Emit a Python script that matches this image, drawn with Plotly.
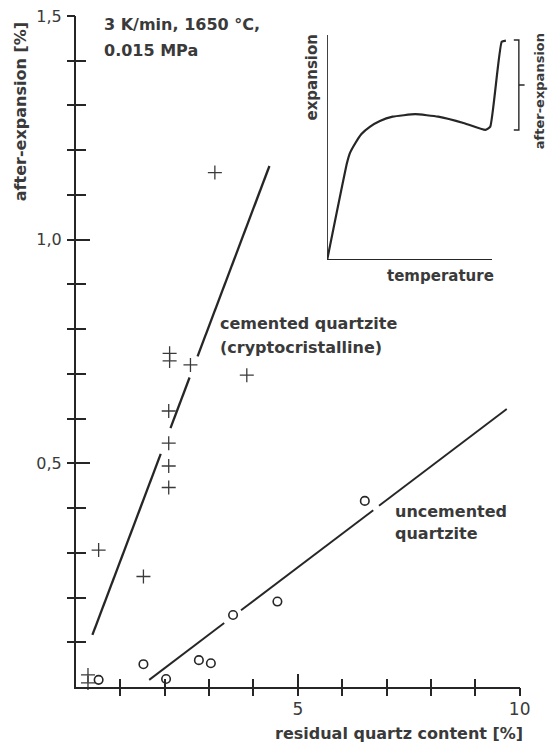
import plotly.graph_objects as go

# ---- measured values -------------------------------------------------------
# cemented quartzite (crosses): residual quartz [%] vs after-expansion [%]
cemented_quartz = [3.13, 2.11, 2.11, 2.58, 3.85, 2.09, 2.09, 2.09, 2.09, 0.51, 1.52, 0.27, 0.27]
cemented_expansion = [1.150, 0.746, 0.729, 0.720, 0.697, 0.617, 0.545, 0.494, 0.446, 0.306, 0.247, 0.027, 0.009]

# uncemented quartzite (open circles)
uncemented_quartz = [0.51, 1.52, 2.03, 2.77, 3.04, 3.54, 4.54, 6.51]
uncemented_expansion = [0.016, 0.051, 0.018, 0.060, 0.053, 0.161, 0.191, 0.416]

# trend lines: slope, intercept and the drawn stretches (broken around labels/points)
cemented_fit = (0.2627, 0.0193)
cemented_spans = [(0.37, 1.91), (2.13, 2.56), (2.74, 4.36)]
uncemented_fit = (0.0751, -0.108)
uncemented_spans = [(1.65, 3.34), (3.72, 6.70), (6.83, 9.71)]

# axis ticks
x_major = [5, 10]
x_major_text = ["5", "10"]
x_minor = [1, 2, 3, 4, 6, 7, 8, 9]
y_major = [0.5, 1.0, 1.5]
y_major_text = ["0,5", "1,0", "1,5"]
y_minor = [round(0.1 * k, 1) for k in range(1, 15) if k not in (5, 10)]

# schematic dilatometer curve for the inset (relative units)
schematic_temp = [0.0, 0.090, 0.104, 0.128, 0.156, 0.194, 0.240, 0.298, 0.401, 0.505,
                  0.624, 0.720, 0.742, 0.794, 0.813]
schematic_exp = [0.0, 0.430, 0.476, 0.519, 0.560, 0.592, 0.618, 0.637, 0.648, 0.637,
                 0.608, 0.578, 0.593, 0.970, 0.975]
inset_axis_t = [0.0, 0.0, 0.750]
inset_axis_e = [1.0, 0.0, 0.0]
bracket_t = [0.849, 0.872, 0.872, 0.849]
bracket_e = [0.978, 0.978, 0.578, 0.578]
bracket_mark_t = [0.872, 0.898]
bracket_mark_e = [0.778, 0.778]

INK = "#262626"
TEXT = "#3a3a3a"
FONT = "DejaVu Sans"

# plot-area geometry in pixels (used to place the inset and its labels)
LEFT, TOP, PLOT_W, PLOT_H = 76, 16, 482, 671


def px_to_paper(px, py):
    return (px - LEFT) / PLOT_W, (TOP + PLOT_H - py) / PLOT_H


def segmented(fit, spans):
    m, c = fit
    xs, ys = [], []
    for a, b in spans:
        xs += [a, b, None]
        ys += [m * a + c, m * b + c, None]
    return xs, ys


fig = go.Figure()

cx, cy = segmented(cemented_fit, cemented_spans)
fig.add_trace(go.Scatter(x=cx, y=cy, mode="lines", line=dict(color=INK, width=2.3),
                         hoverinfo="skip", showlegend=False))
ux, uy = segmented(uncemented_fit, uncemented_spans)
fig.add_trace(go.Scatter(x=ux, y=uy, mode="lines", line=dict(color=INK, width=1.9),
                         hoverinfo="skip", showlegend=False))

fig.add_trace(go.Scatter(x=cemented_quartz, y=cemented_expansion, mode="markers",
                         marker=dict(symbol="cross-thin", size=10, color="#3a3a3a",
                                     line=dict(color="#3a3a3a", width=1.3)),
                         cliponaxis=False, showlegend=False, name="cemented quartzite"))
fig.add_trace(go.Scatter(x=uncemented_quartz, y=uncemented_expansion, mode="markers",
                         marker=dict(symbol="circle-open", size=8.5, color=INK,
                                     line=dict(color=INK, width=1.6)),
                         cliponaxis=False, showlegend=False, name="uncemented quartzite"))

# invisible anchors so the outward tick overlays get drawn
fig.add_trace(go.Scatter(x=[0], y=[0], xaxis="x3", yaxis="y", mode="markers",
                         marker=dict(opacity=0), hoverinfo="skip", showlegend=False))
fig.add_trace(go.Scatter(x=[0], y=[0], xaxis="x", yaxis="y3", mode="markers",
                         marker=dict(opacity=0), hoverinfo="skip", showlegend=False))

# inset schematic
fig.add_trace(go.Scatter(x=inset_axis_t, y=inset_axis_e, xaxis="x2", yaxis="y2", mode="lines",
                         line=dict(color=INK, width=1.8), hoverinfo="skip", showlegend=False))
fig.add_trace(go.Scatter(x=schematic_temp, y=schematic_exp, xaxis="x2", yaxis="y2",
                         mode="lines", line=dict(color=INK, width=2.2, shape="spline", smoothing=0.4),
                         hoverinfo="skip", showlegend=False))
fig.add_trace(go.Scatter(x=bracket_t, y=bracket_e, xaxis="x2", yaxis="y2", mode="lines",
                         line=dict(color=INK, width=1.4), hoverinfo="skip", showlegend=False))
fig.add_trace(go.Scatter(x=bracket_mark_t, y=bracket_mark_e, xaxis="x2", yaxis="y2", mode="lines",
                         line=dict(color=INK, width=1.4), hoverinfo="skip", showlegend=False))

main_dom = [0, 454 / PLOT_W]
axis_common = dict(showgrid=False, zeroline=False, fixedrange=True)

ins_x0, ins_y0 = px_to_paper(333, 260)
ins_x1, ins_y1 = px_to_paper(558, 35)

fig.update_layout(
    width=558, height=744,
    margin=dict(l=LEFT, r=0, t=TOP, b=744 - TOP - PLOT_H),
    paper_bgcolor="white", plot_bgcolor="rgba(0,0,0,0)",
    font=dict(family=FONT, color=TEXT),
    xaxis=dict(domain=main_dom, range=[0, 10], showline=True, linecolor=INK, linewidth=2,
               tickmode="array", tickvals=x_major, ticktext=x_major_text,
               ticks="inside", ticklen=13, tickwidth=1.8, tickcolor=INK,
               ticklabelstandoff=6, tickfont=dict(size=17, color=TEXT),
               minor=dict(tickmode="array", tickvals=x_minor, ticks="inside", ticklen=8,
                          tickwidth=1.8, tickcolor=INK),
               **axis_common),
    yaxis=dict(domain=[0, 1], range=[0, 1.5], showline=True, linecolor=INK, linewidth=2,
               tickmode="array", tickvals=y_major, ticktext=y_major_text,
               ticks="inside", ticklen=14, tickwidth=1.8, tickcolor=INK,
               ticklabelstandoff=9, tickfont=dict(size=16, color=TEXT),
               minor=dict(tickmode="array", tickvals=y_minor, ticks="inside", ticklen=10,
                          tickwidth=1.8, tickcolor=INK),
               **axis_common),
    xaxis3=dict(overlaying="x", anchor="y", domain=main_dom, range=[0, 10], side="bottom",
                tickmode="array", tickvals=x_minor + x_major, ticks="outside", ticklen=8,
                tickwidth=1.8, tickcolor=INK, showticklabels=False, showline=False,
                **axis_common),
    yaxis3=dict(overlaying="y", anchor="x", range=[0, 1.5], side="left",
                tickmode="array", tickvals=y_minor + y_major, ticks="outside", ticklen=8,
                tickwidth=1.8, tickcolor=INK, showticklabels=False, showline=False,
                **axis_common),
    xaxis2=dict(domain=[ins_x0, ins_x1], range=[0, 1], anchor="y2", visible=False,
                **axis_common),
    yaxis2=dict(domain=[ins_y0, ins_y1], range=[0, 1], anchor="x2",
                visible=False, **axis_common),
)

bold = dict(family=FONT, size=16, color=TEXT, weight="bold")
notes = [
    dict(x=0.595, y=1.480, text="3 K/min, 1650 °C,", xanchor="left"),
    dict(x=0.595, y=1.4225, text="0.015 MPa", xanchor="left"),
    dict(x=3.21, y=0.8115, text="cemented quartzite", xanchor="left"),
    dict(x=3.21, y=0.758, text="(cryptocristalline)", xanchor="left"),
    dict(x=7.14, y=0.392, text="uncemented", xanchor="left"),
    dict(x=7.14, y=0.3436, text="quartzite", xanchor="left"),
]
for n in notes:
    fig.add_annotation(xref="x", yref="y", yanchor="middle", showarrow=False,
                       font=bold, **n)

# axis titles
fig.add_annotation(xref="x", yref="paper", x=7.27, y=0, yshift=-46, text="residual quartz content [%]",
                   xanchor="center", yanchor="middle", showarrow=False, font=bold)
fig.add_annotation(xref="x", yref="y", x=0, xshift=-56, y=1.285, text="after-expansion [%]",
                   textangle=-90, xanchor="center", yanchor="middle", showarrow=False, font=bold)

# inset labels
inset_font = dict(family=FONT, size=15, color=TEXT, weight="bold")
ex, ey = px_to_paper(318, 77)
fig.add_annotation(xref="paper", yref="paper", x=ex, y=ey, text="expansion", textangle=-90,
                   xanchor="center", yanchor="middle", showarrow=False, font=inset_font)
tx, ty = px_to_paper(449, 276)
fig.add_annotation(xref="paper", yref="paper", x=tx, y=ty, text="temperature",
                   xanchor="center", yanchor="middle", showarrow=False, font=inset_font)
ax_, ay_ = px_to_paper(551, 91)
fig.add_annotation(xref="paper", yref="paper", x=ax_, y=ay_, text="after-expansion", textangle=-90,
                   xanchor="center", yanchor="middle", showarrow=False,
                   font=dict(family=FONT, size=13, color=TEXT, weight="bold"))

fig.write_html("out.html")
